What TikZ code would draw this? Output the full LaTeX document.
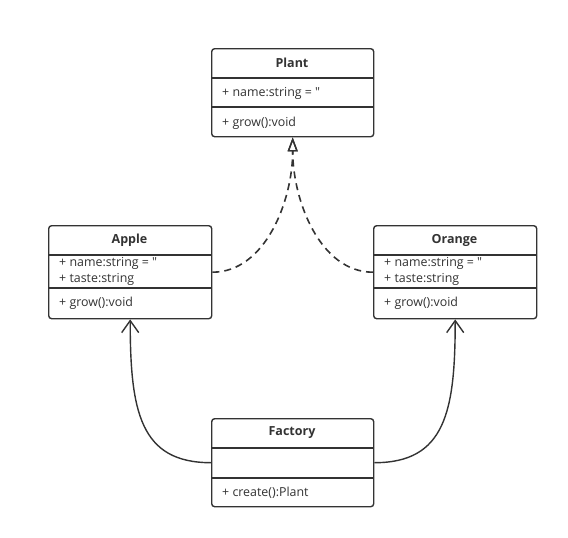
\documentclass[tikz,border=0pt]{standalone}
\usepackage{fontspec}
\setmainfont{Open Sans}[Ligatures=TeXOff]
\usetikzlibrary{arrows.meta}
\definecolor{ink}{HTML}{333333}
\begin{document}
\begin{tikzpicture}[x=1pt,y=-1pt,
  cls/.style={draw=ink, line width=1.4pt, rounded corners=3pt, inner sep=0pt, anchor=north west, fill=white},
  ttl/.style={font=\bfseries\fontsize{12.5}{14}\selectfont, text=ink},
  attr/.style={font=\fontsize{12.4}{16}\selectfont, text=ink, anchor=west, align=left, inner sep=0pt},
  sepline/.style={draw=ink, line width=1.4pt},
  dep/.style={draw=ink, line width=1.6pt, dash pattern=on 7pt off 5pt, -{Triangle[open,length=14pt,width=10pt,line width=1.4pt,sep=0pt]}},
  assoc/.style={draw=ink, line width=1.4pt, -{Straight Barb[length=12pt,width=17pt,line width=1.4pt]}}
]
\useasboundingbox (0,0) rectangle (568,538);
% boxes
\node[cls, minimum width=162pt, minimum height=88pt] (plant) at (211,48) {};
\node[cls, minimum width=163pt, minimum height=93pt] (apple) at (48,225) {};
\node[cls, minimum width=163pt, minimum height=93pt] (orange) at (373,225) {};
\node[cls, minimum width=162pt, minimum height=88pt] (factory) at (211,418) {};
% separators
\draw[sepline] (211,78) -- (373,78);
\draw[sepline] (211,107) -- (373,107);
\draw[sepline] (48,255) -- (211,255);
\draw[sepline] (48,288) -- (211,288);
\draw[sepline] (373,255) -- (536,255);
\draw[sepline] (373,288) -- (536,288);
\draw[sepline] (211,448) -- (373,448);
\draw[sepline] (211,478) -- (373,478);
% texts
\node[ttl] (plantT) at (292,63) {Plant};
\node[attr] (plantA) at (222,93) {+ name:string = "};
\node[attr] (plantM) at (222,123) {+ grow():void};
\node[ttl] (appleT) at (129.5,240) {Apple};
\node[attr] (appleA) at (59,271) {+ name:string = "\\+ taste:string};
\node[attr] (appleM) at (59,303) {+ grow():void};
\node[ttl] (orangeT) at (454.5,240) {Orange};
\node[attr] (orangeA) at (384,271) {+ name:string = "\\+ taste:string};
\node[attr] (orangeM) at (384,303) {+ grow():void};
\node[ttl] (factoryT) at (292,433) {Factory};
\node[attr] (factoryM) at (222,493) {+ create():Plant};
% connectors
\draw[dep] (apple.east) .. controls +(53,0) and +(0,63) .. (plant.south);
\draw[dep] (orange.west) .. controls +(-53,0) and +(0,63) .. (plant.south);
\draw[assoc] (factory.west) .. controls +(-71,0) and +(0,92) .. (apple.south);
\draw[assoc] (factory.east) .. controls +(71,0) and +(0,92) .. (orange.south);
\end{tikzpicture}
\end{document}
